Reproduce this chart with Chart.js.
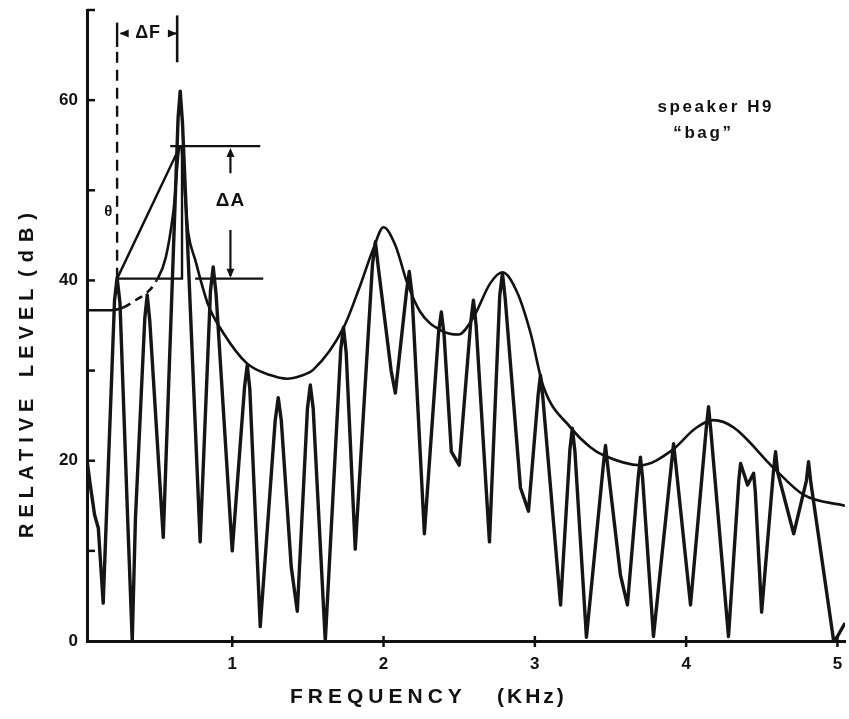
<!DOCTYPE html>
<html>
<head>
<meta charset="utf-8">
<script src="https://cdn.jsdelivr.net/npm/chart.js@4/dist/chart.umd.min.js"></script>
<style>
html,body{margin:0;padding:0;background:#fff;}
#wrap{position:relative;width:849px;height:719px;}
</style>
</head>
<body>
<div id="wrap"><canvas id="c" width="849" height="719"></canvas></div>
<script>
// ---- data (frequency in kHz, level in dB) ----
const specFreq = [0.041,0.06,0.09,0.115,0.147,0.222,0.239,0.258,0.31,0.339,0.36,0.422,0.438,0.455,0.544,0.642,0.656,0.671,0.788,0.856,0.874,0.893,1.0,1.082,1.099,1.116,1.185,1.284,1.304,1.324,1.39,1.43,1.497,1.516,1.535,1.615,1.717,1.735,1.753,1.813,1.927,1.946,1.965,2.05,2.078,2.152,2.17,2.188,2.27,2.364,2.382,2.40,2.448,2.50,2.576,2.594,2.612,2.70,2.768,2.786,2.804,2.905,2.958,3.022,3.037,3.053,3.17,3.232,3.248,3.265,3.341,3.452,3.467,3.483,3.566,3.612,3.683,3.698,3.713,3.784,3.902,3.917,3.933,4.029,4.133,4.148,4.163,4.28,4.348,4.36,4.406,4.446,4.457,4.499,4.577,4.591,4.605,4.711,4.795,4.809,4.824,4.975,5.0,5.05];
const specLevel = [20.0,17.5,14.0,12.5,4.2,37.8,40.3,37.5,13.0,0.0,13.5,35.8,38.4,35.5,11.5,58.0,61.0,57.5,11.0,38.8,41.5,38.5,10.0,28.3,30.6,28.0,1.6,24.5,27.0,24.5,8.2,3.3,25.8,28.4,25.8,0.0,32.3,34.8,32.0,10.2,41.8,44.3,41.5,30.0,27.5,38.8,41.0,38.5,11.9,34.3,36.5,34.0,21.0,19.5,35.3,37.8,35.0,11.0,38.3,40.8,38.0,17.0,14.4,27.3,29.5,27.0,4.0,21.3,23.6,21.0,0.4,19.4,21.7,19.2,7.3,4.0,18.1,20.4,17.9,0.5,19.5,21.9,19.4,4.0,23.6,26.0,23.4,0.5,17.8,19.7,17.3,18.6,16.6,3.2,18.8,21.0,18.7,11.9,17.8,19.9,17.6,0.0,0.5,2.0];

const envFreq = [0.041,0.20,0.28,0.36,0.44,0.50,0.56,0.61,0.656,0.709,0.755,0.841,0.94,1.097,1.251,1.362,1.45,1.536,1.734,1.847,1.93,2.0,2.078,2.157,2.243,2.375,2.495,2.594,2.706,2.786,2.885,2.971,3.057,3.235,3.367,3.454,3.698,3.91,4.062,4.18,4.313,4.578,4.777,5.05];
const envLevel = [36.7,36.7,37.0,37.8,38.7,40.0,42.5,47.5,54.8,45.3,42.3,37.3,34.2,30.8,29.5,29.1,29.4,30.1,34.7,39.5,43.4,45.9,43.9,39.7,36.5,34.5,34.0,35.9,39.7,40.9,38.6,34.2,28.2,23.7,21.5,20.6,19.5,21.2,23.6,24.5,23.7,19.2,16.2,15.0];
const envDashFrom = 0.28, envDashTo = 0.50;

// construction lines (ΔF / ΔA)
const dfLeftDashF = [0.239,0.239], dfLeftDashL = [40.2,65.9];
const dfLeftF = [0.239,0.239],     dfLeftL = [65.9,68.6];
const dfRightF = [0.636,0.636],    dfRightL = [64.2,69.4];
const dfArrowLF = [0.262,0.30],    dfArrowLL = [67.4,67.4];
const dfArrowRF = [0.585,0.630],   dfArrowRL = [67.4,67.4];
const triF = [0.239,0.655,0.668,0.668,0.239], triL = [40.2,54.9,54.9,40.2,40.2];
const topLineF = [0.59,1.185],     topLineL = [54.9,54.9];
const lowLineF = [0.755,1.205],    lowLineL = [40.2,40.2];
const dAUpF = [0.988,0.988],       dAUpL = [54.3,51.9];
const dALowF = [0.988,0.988],      dALowL = [45.6,40.5];
const arrowTips = [
  {x:0.988, y:54.7, dir:'up'},
  {x:0.988, y:40.3, dir:'down'},
  {x:0.256, y:67.4, dir:'left'},
  {x:0.634, y:67.4, dir:'right'}
];

// ticks & texts
const xTicks = [1,2,3,4,5];
const xTickLabels = ['1','2','3','4','5'];
const yTicks = [0,10,20,30,40,50,60,70];
const yTickLabels = ['0','','20','','40','','60',''];
const xTitleWords = ['FREQUENCY','(KHz)'];
const yTitleWords = ['RELATIVE','LEVEL','(dB)'];
const notes = [
  {text:'\u0394F', x:0.444, y:67.4, size:18, align:'center', spacing:'1px'},
  {text:'\u0394A', x:0.988, y:48.8, size:19, align:'center', spacing:'1px'},
  {text:'\u03b8', x:0.18, y:47.6, size:15, align:'center'},
  {text:'speaker H9', x:3.81, y:59.2, size:17, align:'left', spacing:'2.6px'},
  {text:'\u201cbag\u201d', x:3.915, y:56.3, size:17, align:'left', spacing:'2.6px'}
];

// ---- chart ----
const ink = '#111';
const FONT = "'Liberation Sans', Arial, Helvetica, sans-serif";
const pts = (fs, ls) => fs.map((f,i)=>({x:f, y:ls[i]}));
const lineDs = (fs, ls, extra) => Object.assign({
  data: pts(fs, ls), borderColor: ink, borderWidth: 2.2, pointRadius: 0,
  tension: 0, fill: false, borderCapStyle: 'butt'
}, extra || {});

const decor = {
  id: 'decor',
  afterDatasetsDraw(chart) {
    const {ctx, chartArea: a} = chart;
    const x = chart.scales.x, y = chart.scales.y;
    ctx.save();
    ctx.strokeStyle = ink; ctx.fillStyle = ink; ctx.lineWidth = 2.5;
    yTicks.forEach(v => {
      if (v === 0) return;
      const py = y.getPixelForValue(v);
      ctx.beginPath(); ctx.moveTo(a.left, py); ctx.lineTo(a.left + 8, py); ctx.stroke();
    });
    xTicks.forEach(v => {
      const px = x.getPixelForValue(v);
      ctx.beginPath(); ctx.moveTo(px, a.bottom - 5); ctx.lineTo(px, a.bottom + 6); ctx.stroke();
    });
    arrowTips.forEach(t => {
      const px = x.getPixelForValue(t.x), py = y.getPixelForValue(t.y);
      const L = 9, W = 4;
      ctx.beginPath();
      if (t.dir === 'up')    { ctx.moveTo(px, py); ctx.lineTo(px - W, py + L); ctx.lineTo(px + W, py + L); }
      if (t.dir === 'down')  { ctx.moveTo(px, py); ctx.lineTo(px - W, py - L); ctx.lineTo(px + W, py - L); }
      if (t.dir === 'left')  { ctx.moveTo(px, py); ctx.lineTo(px + L, py - W); ctx.lineTo(px + L, py + W); }
      if (t.dir === 'right') { ctx.moveTo(px, py); ctx.lineTo(px - L, py - W); ctx.lineTo(px - L, py + W); }
      ctx.closePath(); ctx.fill();
    });
    ctx.textBaseline = 'middle';
    notes.forEach(n => {
      ctx.font = 'bold ' + n.size + 'px ' + FONT;
      ctx.letterSpacing = n.spacing || '0px';
      ctx.textAlign = n.align;
      ctx.fillText(n.text, x.getPixelForValue(n.x), y.getPixelForValue(n.y));
    });
    ctx.restore();
  },
  afterDraw(chart) {
    const ctx = chart.ctx;
    ctx.save();
    ctx.fillStyle = ink;
    ctx.textBaseline = 'middle';
    ctx.textAlign = 'left';
    // x title
    ctx.font = 'bold 21px ' + FONT;
    ctx.letterSpacing = '5px';
    ctx.fillText(xTitleWords[0], 290, 697);
    ctx.letterSpacing = '3px';
    ctx.fillText(xTitleWords[1], 497, 697);
    // y title
    ctx.translate(27, 0);
    ctx.rotate(-Math.PI / 2);
    ctx.font = 'bold 20px ' + FONT;
    ctx.letterSpacing = '6px';
    ctx.fillText(yTitleWords[0], -538, 0);
    ctx.fillText(yTitleWords[1], -377, 0);
    ctx.letterSpacing = '8px';
    ctx.fillText(yTitleWords[2], -277, 0);
    ctx.restore();
  }
};

new Chart(document.getElementById('c'), {
  type: 'line',
  data: {
    datasets: [
      lineDs(specFreq, specLevel, {borderWidth: 3.4, borderJoinStyle: 'round', borderColor: '#151515'}),
      lineDs(envFreq, envLevel, {borderWidth: 2.6, cubicInterpolationMode: 'monotone',
        segment: {borderDash: c => (c.p0.parsed.x >= envDashFrom - 1e-6 && c.p1.parsed.x <= envDashTo + 1e-6) ? [8, 6] : undefined}}),
      lineDs(dfLeftDashF, dfLeftDashL, {borderDash: [11, 7], borderWidth: 2.4}),
      lineDs(dfLeftF, dfLeftL, {borderWidth: 2.4}),
      lineDs(dfRightF, dfRightL, {borderWidth: 2.6}),
      lineDs(dfArrowLF, dfArrowLL, {borderWidth: 2}),
      lineDs(dfArrowRF, dfArrowRL, {borderWidth: 2}),
      lineDs(triF, triL, {borderWidth: 2.4}),
      lineDs(topLineF, topLineL, {borderWidth: 2.4}),
      lineDs(lowLineF, lowLineL, {borderWidth: 2.4}),
      lineDs(dAUpF, dAUpL, {borderWidth: 2.2}),
      lineDs(dALowF, dALowL, {borderWidth: 2.2})
    ]
  },
  options: {
    responsive: false,
    animation: false,
    devicePixelRatio: 1,
    events: [],
    layout: {padding: {left: 0, right: 4, top: 10, bottom: 0}},
    plugins: {legend: {display: false}, tooltip: {enabled: false}, title: {display: false}},
    scales: {
      x: {
        type: 'linear', min: 0.04, max: 5.05,
        afterBuildTicks: s => { s.ticks = xTicks.map(v => ({value: v})); },
        afterFit: s => { s.height = 78; s.paddingLeft = 0; s.paddingRight = 0; },
        ticks: {
          autoSkip: false, maxRotation: 0, padding: 13, color: ink,
          font: {family: FONT, size: 17, weight: 'bold'},
          callback: v => { const i = xTicks.indexOf(v); return i < 0 ? '' : xTickLabels[i]; }
        },
        grid: {display: true, drawOnChartArea: false, drawTicks: false},
        border: {display: true, color: ink, width: 3}
      },
      y: {
        type: 'linear', min: 0, max: 70,
        afterBuildTicks: s => { s.ticks = yTicks.map(v => ({value: v})); },
        afterFit: s => { s.width = 87; s.paddingTop = 0; s.paddingBottom = 0; },
        ticks: {
          autoSkip: false, padding: 9, color: ink,
          font: {family: FONT, size: 17, weight: 'bold'},
          callback: v => { const i = yTicks.indexOf(v); return i < 0 ? '' : yTickLabels[i]; }
        },
        grid: {display: true, drawOnChartArea: false, drawTicks: false},
        border: {display: true, color: ink, width: 3}
      }
    }
  },
  plugins: [decor]
});
</script>
</body>
</html>
